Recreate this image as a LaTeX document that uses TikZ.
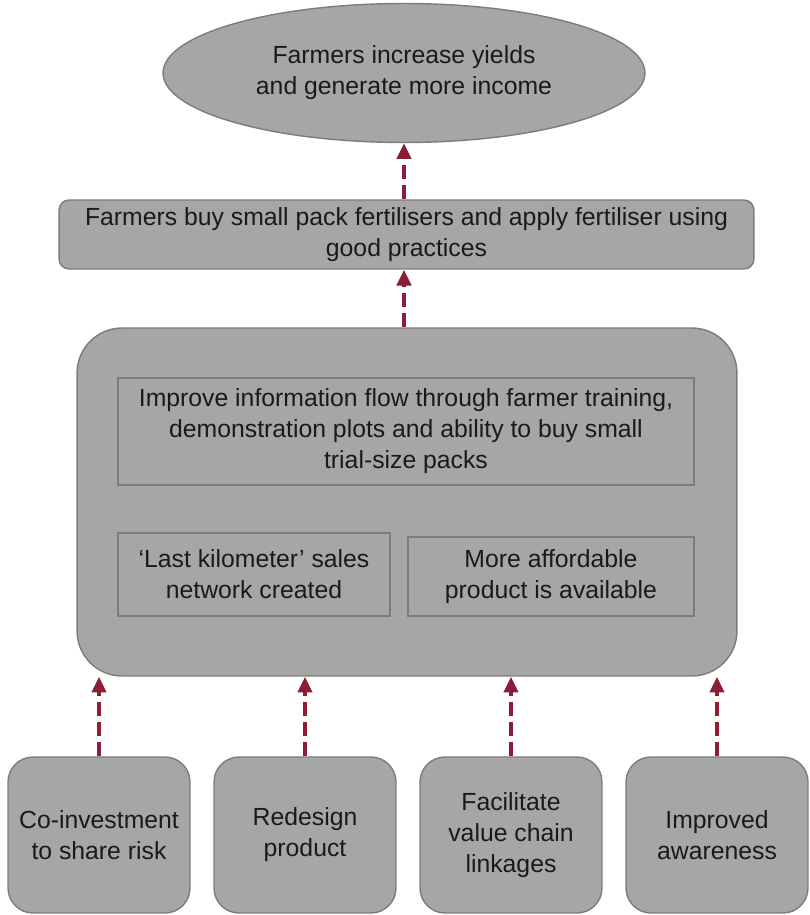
\documentclass[tikz,border=0pt]{standalone}
\usepackage{fontspec}
\setmainfont{Liberation Sans}
\usepackage{tikz}
\usetikzlibrary{shapes.geometric,arrows.meta}
\definecolor{boxgray}{HTML}{A6A6A6}
\definecolor{edgegray}{HTML}{7F7B78}
\definecolor{arrowred}{HTML}{8C1D35}
\definecolor{inktext}{HTML}{1A1A1A}

\begin{document}
\begin{tikzpicture}[x=0.02cm,y=-0.02cm,every text node part/.style={align=center},
every node/.style={font=\fontsize{14.1}{17.6}\selectfont,text=inktext},
goalnode/.style={ellipse,fill=boxgray,draw=edgegray,line width=0.8pt,minimum width=9.64cm,minimum height=2.78cm,inner sep=0pt},
outcome/.style={rectangle,rounded corners=0.2cm,fill=boxgray,draw=edgegray,line width=0.8pt,minimum width=13.9cm,minimum height=1.38cm,inner sep=0pt},
corebox/.style={rectangle,rounded corners=0.9cm,fill=boxgray,draw=edgegray,line width=0.8pt,minimum width=13.2cm,minimum height=6.96cm},
innerbox/.style={rectangle,draw=edgegray,line width=0.8pt,inner sep=0pt},
actbox/.style={rectangle,rounded corners=0.5cm,fill=boxgray,draw=edgegray,line width=0.8pt,minimum width=3.64cm,minimum height=3.12cm,inner sep=0pt},
leadsto/.style={draw=arrowred,line width=2.8pt,dash pattern=on 8pt off 3.4pt,-{Triangle[width=8pt,length=9pt]}}]
\useasboundingbox (0,0) rectangle (810,915);
\node [goalnode] (goal) at (404,73) {Farmers increase yields\\and generate more income};
\node [outcome] (buy) at (406.5,234.5) {Farmers buy small pack fertilisers and apply fertiliser using\\good practices};
\node [corebox] (core) at (407,502) {};
\node [innerbox,minimum width=11.52cm,minimum height=2.14cm] (info) at (406,431.5) {Improve information flow through farmer training,\\demonstration plots and ability to buy small\\trial-size packs};
\node [innerbox,minimum width=5.44cm,minimum height=1.66cm] (sales) at (254,574.5) {`Last kilometer' sales\\network created};
\node [innerbox,minimum width=5.72cm,minimum height=1.58cm] (afford) at (551,576.5) {More affordable\\product is available};
\node [actbox] (coinv) at (99,835) {Co-investment\\to share risk};
\node [actbox] (redesign) at (305,835) {Redesign\\product};
\node [actbox] (facil) at (511,835) {Facilitate\\value chain\\linkages};
\node [actbox] (aware) at (717,835) {Improved\\awareness};
\draw [leadsto] (buy.north -| goal.south) -- (goal.south);
\draw [leadsto] (core.north -| goal.south) -- (buy.south -| goal.south);
\foreach \act in {coinv,redesign,facil,aware}
  \draw [leadsto] (\act.north) -- (\act.north |- core.south);
\end{tikzpicture}
\end{document}
